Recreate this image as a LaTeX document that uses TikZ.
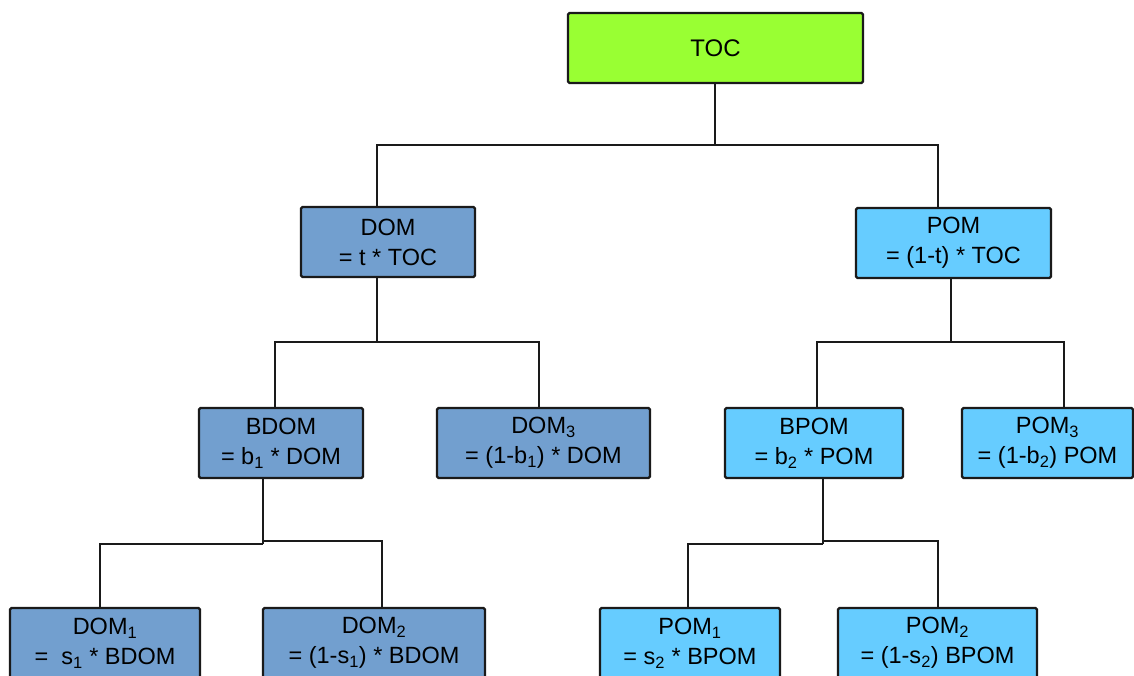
\documentclass[tikz,border=0pt]{standalone}
\usepackage{fontspec}
\setmainfont{Liberation Sans}
\definecolor{tocg}{HTML}{99FF33}
\definecolor{domb}{HTML}{729FCF}
\definecolor{pomb}{HTML}{66CCFF}
\definecolor{edge}{HTML}{1A1A1A}
\begin{document}
\begin{tikzpicture}[x=1pt,y=-1pt,
  box/.style={draw=edge, line width=2.4pt, rounded corners=1.5pt, align=center,
    inner sep=0pt, minimum height=70pt, font=\fontsize{23.5}{30}\selectfont},
  dbox/.style={box, fill=domb},
  pbox/.style={box, fill=pomb},
  conn/.style={line width=2.2pt, draw=edge}]
\path[use as bounding box] (0,0) rectangle (1134,676);
\clip (0,0) rectangle (1134,676);
\fill[white] (0,0) rectangle (1134,676);
% nodes
\node[box, fill=tocg, minimum width=295pt, font=\fontsize{24}{30}\selectfont] (toc) at (715.5,48) {TOC};
\node[dbox, minimum width=174pt] (dom) at (388,242) {DOM\\= t * TOC};
\node[pbox, minimum width=195pt] (pom) at (953.5,243) {POM\\= (1-t) * TOC};
\node[dbox, minimum width=164pt] (bdom) at (281,443) {BDOM\\= b\textsubscript{1} * DOM};
\node[dbox, minimum width=213pt] (dom3) at (543.5,443) {DOM\textsubscript{3}\\= (1-b\textsubscript{1}) * DOM};
\node[pbox, minimum width=178pt] (bpom) at (814,443) {BPOM\\= b\textsubscript{2} * POM};
\node[pbox, minimum width=171pt] (pom3) at (1047.5,443) {POM\textsubscript{3}\\= (1-b\textsubscript{2}) POM};
\node[dbox, minimum width=190pt] (dom1) at (105,643) {DOM\textsubscript{1}\\= \ s\textsubscript{1} * BDOM};
\node[dbox, minimum width=222pt] (dom2) at (374,643) {DOM\textsubscript{2}\\= (1-s\textsubscript{1}) * BDOM};
\node[pbox, minimum width=180pt] (pom1) at (690,643) {POM\textsubscript{1}\\= s\textsubscript{2} * BPOM};
\node[pbox, minimum width=199pt] (pom2) at (937.5,643) {POM\textsubscript{2}\\= (1-s\textsubscript{2}) BPOM};
% junctions
\coordinate (j0) at (715,145);
\coordinate (j1) at (377,342);
\coordinate (j2) at (951,342);
\coordinate (j3) at (263,544);
\coordinate (j3b) at (263,541);
\coordinate (j4) at (823,544);
\coordinate (j4b) at (823,541);
% connectors
\draw[conn] (toc.south -| j0) -- (j0);
\draw[conn] ([xshift=-11pt]dom.north) |- (j0) -| ([xshift=-15.5pt]pom.north);
\draw[conn] (dom.south -| j1) -- (j1);
\draw[conn] ([xshift=-6pt]bdom.north) |- (j1) -| ([xshift=-4.5pt]dom3.north);
\draw[conn] (pom.south -| j2) -- (j2);
\draw[conn] ([xshift=3pt]bpom.north) |- (j2) -| ([xshift=16.5pt]pom3.north);
\draw[conn] (bdom.south -| j3) -- (j3);
\draw[conn] ([xshift=-5pt]dom1.north) |- (j3);
\draw[conn] (j3b) -| ([xshift=8pt]dom2.north);
\draw[conn] (bpom.south -| j4) -- (j4);
\draw[conn] ([xshift=-2pt]pom1.north) |- (j4);
\draw[conn] (j4b) -| ([xshift=0.5pt]pom2.north);
\end{tikzpicture}
\end{document}
